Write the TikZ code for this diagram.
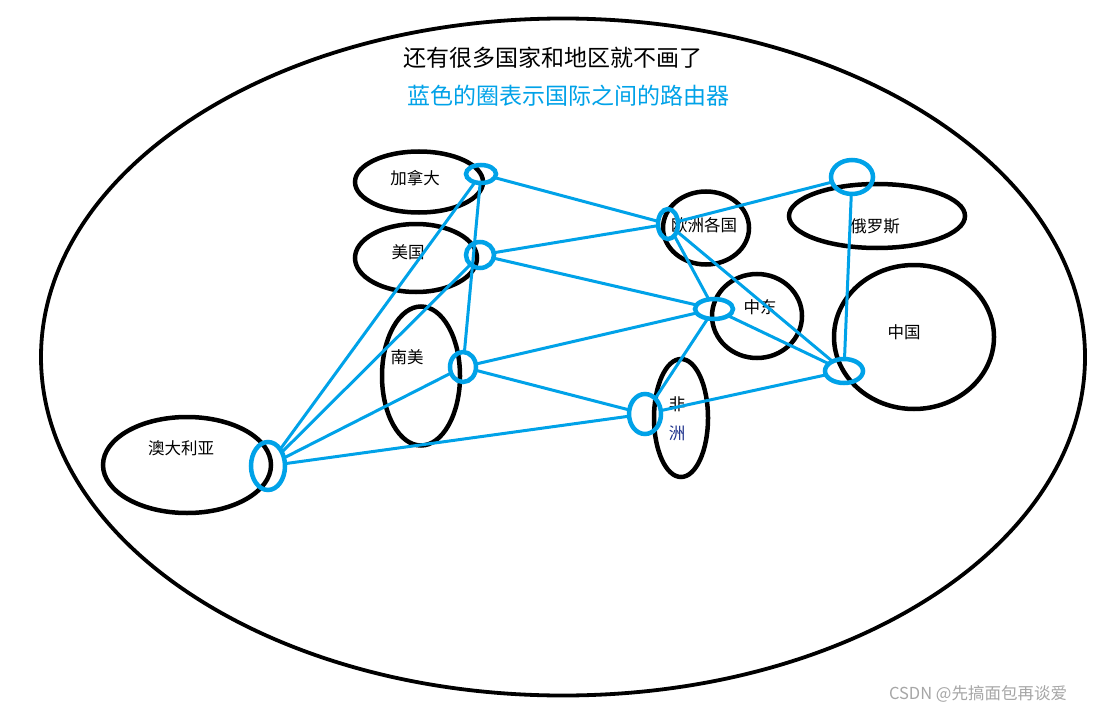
\documentclass[tikz,border=0pt]{standalone}
\usepackage{fontspec}
\setmainfont{Noto Sans CJK SC}
\usetikzlibrary{shapes.geometric}
\definecolor{paintblue}{RGB}{0,162,232}
\definecolor{navytext}{RGB}{30,50,140}
\tikzset{
  region/.style={ellipse, draw=black, line width=4.5pt, inner sep=0pt},
  router/.style={ellipse, draw=paintblue, line width=4.5pt, inner sep=0pt},
  link/.style={draw=paintblue, line width=3pt, shorten <=-3pt, shorten >=-3pt},
  lbl/.style={font=\fontsize{16.5}{18}\selectfont, inner sep=0pt, text=black},
}
\begin{document}
\begin{tikzpicture}[x=1pt,y=-1pt]
\useasboundingbox (0,0) rectangle (1099,714);
\fill[white] (0,0) rectangle (1099,714);
% outer world ellipse
\node[ellipse, draw=black, line width=3.8pt, minimum width=1044pt, minimum height=677pt, inner sep=0pt] (world) at (563,357) {};
% titles
\node[font=\fontsize{23}{26}\selectfont, inner sep=0pt] (t1) at (553,58) {还有很多国家和地区就不画了};
\node[font=\fontsize{23}{26}\selectfont, text=paintblue, inner sep=0pt] (t2) at (568,96) {蓝色的圈表示国际之间的路由器};
% regions
\node[region, minimum width=128pt, minimum height=61pt] (ca) at (419,182) {};
\node[region, minimum width=122pt, minimum height=68pt] (us) at (416,258) {};
\node[region, minimum width=78pt, minimum height=139pt] (sa) at (421,376) {};
\node[region, minimum width=86pt, minimum height=73pt] (eu) at (706,228) {};
\node[region, minimum width=176pt, minimum height=64pt] (ru) at (877,216) {};
\node[region, minimum width=90pt, minimum height=84pt] (me) at (757,316) {};
\node[region, minimum width=160pt, minimum height=144pt] (cn) at (914,337) {};
\node[region, minimum width=54pt, minimum height=118pt] (af) at (681,418) {};
\node[region, minimum width=168pt, minimum height=96pt] (au) at (187,465) {};
% labels
\node[lbl] (lca) at (415,178) {加拿大};
\node[lbl] (lus) at (408,252) {美国};
\node[lbl] (lsa) at (407,357) {南美};
\node[lbl] (leu) at (704,225) {欧洲各国};
\node[lbl] (lru) at (875,226) {俄罗斯};
\node[lbl] (lme) at (760,307) {中东};
\node[lbl] (lcn) at (904,332) {中国};
\node[lbl] (laf1) at (677,404) {非};
\node[lbl, text=navytext] (laf2) at (677,433) {洲};
\node[lbl] (lau) at (181,448) {澳大利亚};
% routers
\node[router, minimum width=30pt, minimum height=18pt] (rca) at (481,174) {};
\node[router, minimum width=28pt, minimum height=26pt] (rus) at (480,255) {};
\node[router, minimum width=26pt, minimum height=30pt] (rsa) at (463,367) {};
\node[router, minimum width=20pt, minimum height=30pt] (reu) at (668,224) {};
\node[router, minimum width=42pt, minimum height=34pt] (rru) at (852,177) {};
\node[router, minimum width=38pt, minimum height=20pt] (rme) at (714,309) {};
\node[router, minimum width=38pt, minimum height=24pt] (rcn) at (844,371) {};
\node[router, minimum width=32pt, minimum height=40pt] (raf) at (645,414) {};
\node[router, minimum width=34pt, minimum height=48pt] (rau) at (268,466) {};
% links
\draw[link] (rca) -- (reu);
\draw[link] (rca) -- (rau);
\draw[link] (rca) -- (rsa);
\draw[link] (rus) -- (reu);
\draw[link] (rus) -- (rme);
\draw[link] (rus) -- (rau);
\draw[link] (rsa) -- (rme);
\draw[link] (rsa) -- (raf);
\draw[link] (rsa) -- (rau);
\draw[link] (rau) -- (raf);
\draw[link] (reu) -- (rru);
\draw[link] (reu) -- (rme);
\draw[link] (reu) -- (rcn);
\draw[link] (rru) -- (rcn);
\draw[link] (rme) -- (rcn);
\draw[link] (rme) -- (raf);
\draw[link] (raf) -- (rcn);
% watermark
\node[font=\fontsize{16.5}{18}\selectfont, text=black!35, inner sep=0pt] (wm) at (978,694) {CSDN @先搞面包再谈爱};
\end{tikzpicture}
\end{document}
